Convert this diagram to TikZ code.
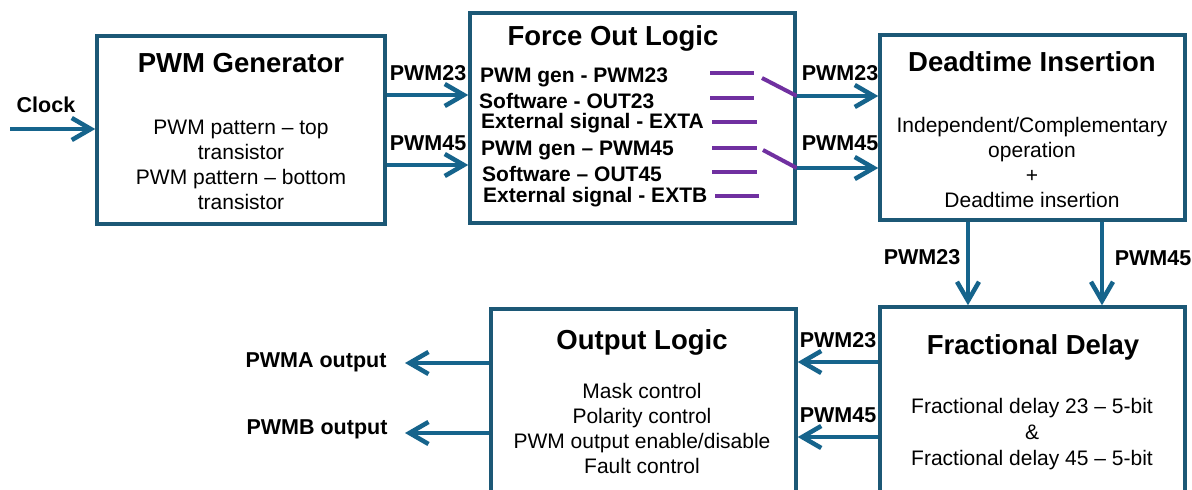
\documentclass[tikz,border=0pt]{standalone}
\usepackage{fontspec}
\setmainfont{Liberation Sans}
\usetikzlibrary{arrows.meta}

\definecolor{boxblue}{RGB}{28,88,118}
\definecolor{sigblue}{RGB}{22,100,140}
\definecolor{swpurple}{RGB}{112,48,160}

\begin{document}
\begin{tikzpicture}[x=1pt, y=-1pt,
  block/.style={draw=boxblue, line width=3.5pt, fill=white, inner sep=0pt},
  title/.style={font=\fontsize{27.5}{32}\selectfont\bfseries},
  body/.style={font=\fontsize{21}{25}\selectfont, align=center},
  sig/.style={draw=sigblue, line width=4.5pt, -{Straight Barb[length=19pt, width=22pt]}},
  siglabel/.style={font=\fontsize{21.5}{25}\selectfont\bfseries},
  fotext/.style={font=\fontsize{21}{25}\selectfont\bfseries, anchor=west, inner sep=0pt},
  switch/.style={draw=swpurple, line width=4pt}]

\useasboundingbox (0,0) rectangle (1192,490);
\clip (0,0) rectangle (1192,490);
\fill[white] (0,0) rectangle (1192,490);

% Blocks
\node[block, minimum width=288pt, minimum height=188pt] (pwmgen) at (241,130) {};
\node[block, minimum width=325pt, minimum height=210pt] (fol) at (632.5,118) {};
\node[block, minimum width=305pt, minimum height=185pt] (dti) at (1032.5,127.5) {};
\node[block, minimum width=305pt, minimum height=203pt] (frd) at (1032.5,408.5) {};
\node[block, minimum width=305pt, minimum height=201pt] (outl) at (643.5,409.5) {};

% PWM Generator
\node[title] (pwmgen-t) at (241,63) {PWM Generator};
\node[body] (pwmgen-b) at (241,165) {PWM pattern -- top\\transistor\\PWM pattern -- bottom\\transistor};

% Force Out Logic
\node[title] (fol-t) at (613,38) {Force Out Logic};
\node[fotext] (fo1) at (480,77) {PWM gen - PWM23};
\node[fotext] (fo2) at (479,101) {Software - OUT23};
\node[fotext] (fo3) at (481,123) {External signal - EXTA};
\node[fotext] (fo4) at (481,150) {PWM gen -- PWM45};
\node[fotext] (fo5) at (482,174) {Software -- OUT45};
\node[fotext] (fo6) at (483,197) {External signal - EXTB};

% Switch contacts
\draw[switch] (710,73) -- (754,73);
\draw[switch] (710,98) -- (754,98);
\draw[switch] (712,122) -- (757,122);
\draw[switch] (712,148) -- (757,148);
\draw[switch] (712,172) -- (757,172);
\draw[switch] (715,196) -- (759,196);
\draw[switch] (762,78) -- (fol.east |- 0,96);
\draw[switch] (763,150) -- (fol.east |- 0,168);

% Deadtime Insertion
\node[title] (dti-t) at (1032,62) {Deadtime Insertion};
\node[body] (dti-b) at (1032,162.5) {Independent/Complementary\\operation\\+\\Deadtime insertion};

% Fractional Delay
\node[title] (frd-t) at (1033,347) {Fractional Delay};
\node[body, font=\fontsize{21}{26}\selectfont] (frd-b) at (1032,434) {Fractional delay 23 -- 5-bit\\\&\\Fractional delay 45 -- 5-bit};

% Output Logic
\node[title] (outl-t) at (642,342) {Output Logic};
\node[body] (outl-b) at (642,428) {Mask control\\Polarity control\\PWM output enable/disable\\Fault control};

% Signals
\coordinate (clk) at (10,129);
\node[siglabel] (clk-l) at (46,105) {Clock};
\draw[sig] (clk) -- (pwmgen.west |- clk);

\node[siglabel] (a23-l) at (428,73) {PWM23};
\node[siglabel] (a45-l) at (428,143) {PWM45};
\draw[sig] (pwmgen.east |- 0,95) -- (fol.west |- 0,95);
\draw[sig] (pwmgen.east |- 0,165) -- (fol.west |- 0,165);

\node[siglabel] (b23-l) at (840,73) {PWM23};
\node[siglabel] (b45-l) at (840,143) {PWM45};
\draw[sig] (fol.east |- 0,96) -- (dti.west |- 0,96);
\draw[sig] (fol.east |- 0,168) -- (dti.west |- 0,168);

\node[siglabel] (c23-l) at (922,257) {PWM23};
\node[siglabel] (c45-l) at (1153,258) {PWM45};
\draw[sig] (dti.south -| 968,0) -- (frd.north -| 968,0);
\draw[sig] (dti.south -| 1102,0) -- (frd.north -| 1102,0);

\node[siglabel] (d23-l) at (838,340) {PWM23};
\node[siglabel] (d45-l) at (838,415) {PWM45};
\draw[sig] (frd.west |- 0,362) -- (outl.east |- 0,362);
\draw[sig] (frd.west |- 0,437) -- (outl.east |- 0,437);

\coordinate (pwma) at (405,363);
\coordinate (pwmb) at (405,433);
\node[siglabel] (pwma-l) at (316,362) {PWMA output};
\node[siglabel] (pwmb-l) at (317,429) {PWMB output};
\draw[sig] (outl.west |- pwma) -- (pwma);
\draw[sig] (outl.west |- pwmb) -- (pwmb);

\end{tikzpicture}
\end{document}
